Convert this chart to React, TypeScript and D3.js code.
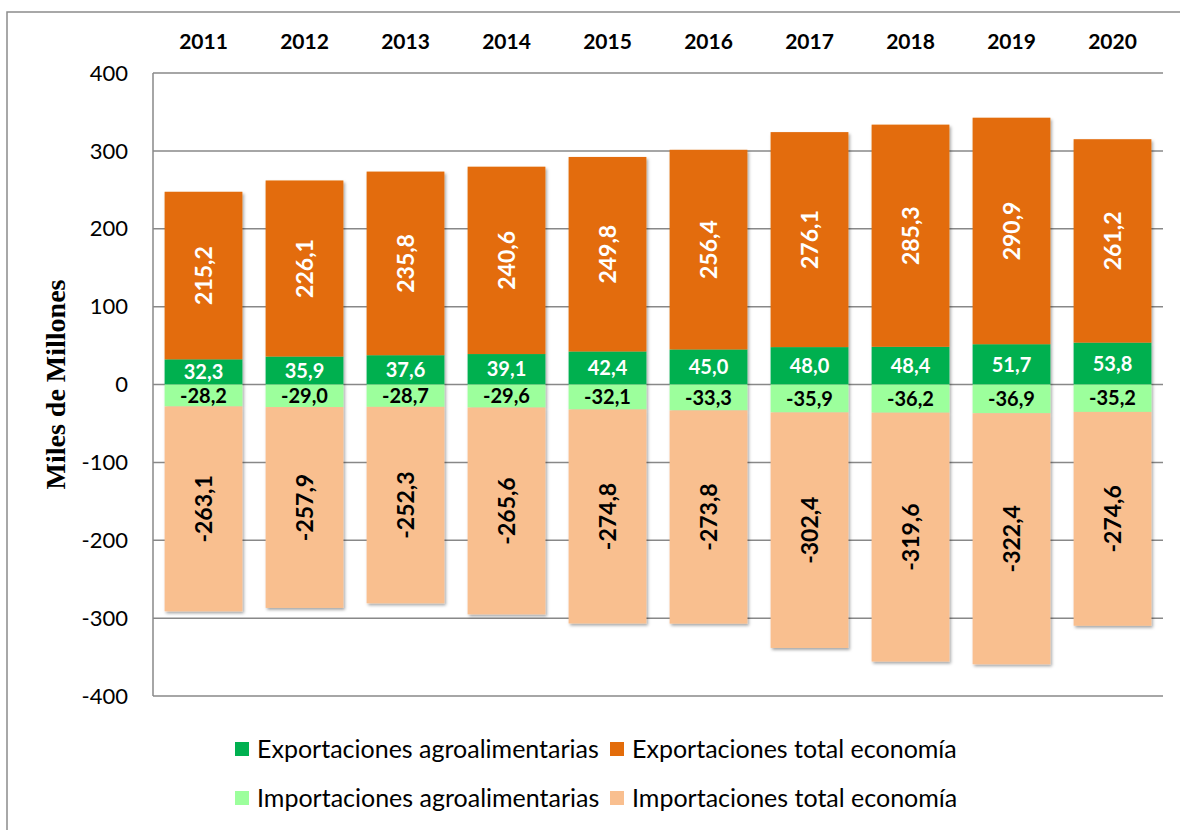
import React, { useEffect } from 'react';
import * as d3 from 'd3';

const years = ['2011', '2012', '2013', '2014', '2015', '2016', '2017', '2018', '2019', '2020'];
const agroExports = [32.3, 35.9, 37.6, 39.1, 42.4, 45.0, 48.0, 48.4, 51.7, 53.8];
const totalExports = [215.2, 226.1, 235.8, 240.6, 249.8, 256.4, 276.1, 285.3, 290.9, 261.2];
const agroImports = [-28.2, -29.0, -28.7, -29.6, -32.1, -33.3, -35.9, -36.2, -36.9, -35.2];
const totalImports = [-263.1, -257.9, -252.3, -265.6, -274.8, -273.8, -302.4, -319.6, -322.4, -274.6];
const yTicks = [400, 300, 200, 100, 0, -100, -200, -300, -400];

const seriesKeys = ['agroExp', 'totalExp', 'agroImp', 'totalImp'];
const seriesNames = [
  'Exportaciones agroalimentarias',
  'Exportaciones total economía',
  'Importaciones agroalimentarias',
  'Importaciones total economía',
];
const colors = ['#00b050', '#e36c0a', '#9cff9c', '#f9bf8f'];
const labelColors = ['#ffffff', '#ffffff', '#000000', '#000000'];

const fmt = (v: number) => v.toFixed(1).replace('.', ',');
const font = 'Lato, "Open Sans", sans-serif';

export default function App() {
  useEffect(() => {
    document.body.style.margin = '0';
  }, []);

  const W = 1180;
  const H = 830;
  const left = 153, right = 1163, top = 73, bottom = 696;

  const x = d3.scaleBand<string>().domain(years).range([left, right]).paddingInner(0.23).paddingOuter(0.115);
  const y = d3.scaleLinear().domain([-400, 400]).range([bottom, top]);

  const rows = years.map((yr, i) => ({
    year: yr,
    agroExp: agroExports[i],
    totalExp: totalExports[i],
    agroImp: agroImports[i],
    totalImp: totalImports[i],
  }));
  const stacked = d3.stack<any>().keys(seriesKeys).offset(d3.stackOffsetDiverging)(rows);

  return (
    <svg width={W} height={H} style={{ display: 'block', background: '#fff' }}>
      <defs>
        <filter id="shadow" x="-10%" y="-10%" width="125%" height="125%">
          <feDropShadow dx="1.5" dy="2" stdDeviation="1.5" floodColor="#000" floodOpacity="0.35" />
        </filter>
      </defs>
      <rect x={7} y={12} width={W + 10} height={H + 10} fill="#fff" stroke="#8c8c8c" strokeWidth={1.5} />

      {/* gridlines */}
      {yTicks.map((t) => (
        <line key={t} x1={left} x2={right} y1={y(t)} y2={y(t)} stroke="#888" strokeWidth={1.5} />
      ))}
      <line x1={left} x2={left} y1={top} y2={bottom} stroke="#888" strokeWidth={1.5} />

      {/* tick labels */}
      {yTicks.map((t) => (
        <text key={'t' + t} x={128} y={y(t)} dy="0.35em" textAnchor="end" fontFamily={font} fontSize={22} fill="#000">
          {t}
        </text>
      ))}

      {/* year labels */}
      {years.map((yr) => (
        <text key={yr} x={x(yr)! + x.bandwidth() / 2} y={42} dy="0.35em" textAnchor="middle" fontFamily={font} fontWeight={700} fontSize={21} fill="#000">
          {yr}
        </text>
      ))}

      {/* bars */}
      <g filter="url(#shadow)">
        {stacked.map((s, si) =>
          s.map((d, i) => (
            <rect
              key={si + '-' + i}
              x={x(years[i])}
              width={x.bandwidth()}
              y={y(Math.max(d[0], d[1]))}
              height={Math.abs(y(d[0]) - y(d[1]))}
              fill={colors[si]}
            />
          ))
        )}
      </g>

      {/* value labels */}
      {stacked.map((s, si) =>
        s.map((d, i) => {
          const cx = x(years[i])! + x.bandwidth() / 2;
          const cy = y((d[0] + d[1]) / 2);
          const v = (rows[i] as any)[seriesKeys[si]] as number;
          const rotated = si === 1 || si === 3;
          return (
            <text
              key={'l' + si + '-' + i}
              transform={rotated ? `translate(${cx},${cy}) rotate(-90)` : `translate(${cx},${cy})`}
              dy="0.36em"
              textAnchor="middle"
              fontFamily={font}
              fontWeight={700}
              fontSize={rotated ? 23 : 20}
              fill={labelColors[si]}
            >
              {fmt(v)}
            </text>
          );
        })
      )}

      {/* y axis title */}
      <text
        transform={`translate(55,${(top + bottom) / 2}) rotate(-90)`}
        dy="0.35em"
        textAnchor="middle"
        fontFamily='"Liberation Serif", "DejaVu Serif", serif'
        fontWeight={700}
        fontSize={28}
        fill="#000"
      >
        Miles de Millones
      </text>

      {/* legend */}
      {seriesNames.map((name, i) => {
        const col = i % 2;
        const row = Math.floor(i / 2);
        const lx = col === 0 ? 235 : 610;
        const ly = row === 0 ? 749 : 798;
        return (
          <g key={name} transform={`translate(${lx},${ly})`}>
            <rect x={0} y={-7} width={14} height={14} fill={colors[i]} />
            <text x={22} y={0} dy="0.35em" fontFamily={font} fontSize={25} fill="#000">
              {name}
            </text>
          </g>
        );
      })}
    </svg>
  );
}
